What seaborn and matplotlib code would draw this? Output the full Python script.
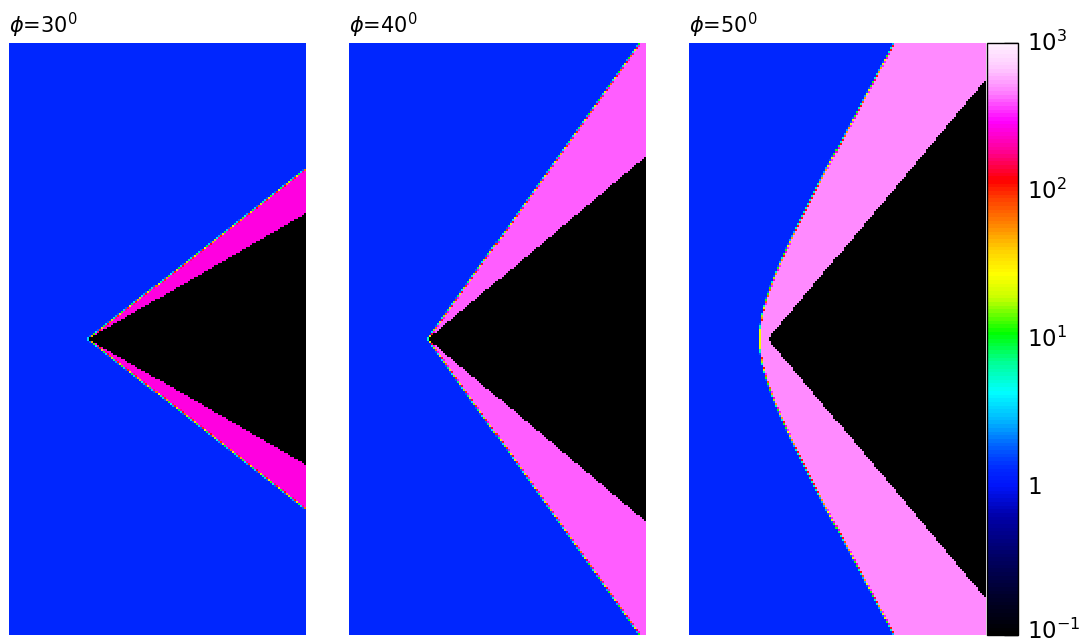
import numpy as np
import matplotlib
matplotlib.use("Agg")
import matplotlib.pyplot as plt
import seaborn as sns
from matplotlib.colors import LinearSegmentedColormap, LogNorm
from matplotlib.ticker import FixedLocator, NullFormatter

# Wedge runs: half-angle (deg), attached shock angle (deg), post-shock density
wedge_angles = [30, 40, 50]
shock_angles = [38.0, 54.4, None]          # None -> detached bow shock
post_shock_density = [254.0, 401.0, 479.0]
ambient_density = 1.3
wedge_density = 0.1
# Detached bow shock of the 50 deg run: nose position, nose radius, far-field slope dx/dy
bow_nose = 71.0
bow_radius = 32.0
bow_slope = 0.55

panel_titles = [r"$\phi$=30$^0$", r"$\phi$=40$^0$", r"$\phi$=50$^0$"]
cbar_ticks = [0.1, 1, 10, 100, 1000]
cbar_ticklabels = [r"$10^{-1}$", r"$1$", r"$10^{1}$", r"$10^{2}$", r"$10^{3}$"]

sns.set_theme(style="white")
plt.rcParams["font.family"] = ["DejaVu Sans"]
plt.rcParams["mathtext.fontset"] = "dejavusans"
plt.rcParams["text.color"] = "black"
plt.rcParams["ytick.color"] = "black"

# density colour table (log scale, 0.1 .. 1000)
anchors = [
    (0.00, (0, 0, 0)), (0.06, (0, 0, 40)), (0.13, (0, 0, 100)), (0.20, (0, 0, 170)),
    (0.25, (0, 20, 250)), (0.28, (0, 40, 255)), (0.32, (0, 100, 255)), (0.36, (0, 180, 255)),
    (0.41, (0, 255, 255)), (0.46, (0, 255, 150)), (0.51, (0, 255, 0)), (0.57, (200, 255, 0)),
    (0.61, (255, 255, 0)), (0.65, (255, 210, 0)), (0.69, (255, 140, 0)), (0.74, (255, 60, 0)),
    (0.77, (255, 0, 0)), (0.82, (255, 0, 150)), (0.87, (255, 0, 255)), (0.92, (255, 130, 255)),
    (0.96, (255, 200, 255)), (1.00, (255, 240, 255)),
]
cmap = LinearSegmentedColormap.from_list(
    "density", [(t, tuple(c / 255 for c in rgb)) for t, rgb in anchors], N=160)
cmap.set_under("black")
norm = LogNorm(vmin=0.1, vmax=1000)

# computational grid (cells), supersampled for cell coverage
nx, ny, sub = 148, 296, 4
Lx, Ly = 297.0, 592.0
apex_x = 79.0
xf = (np.arange(nx * sub) + 0.5) / (nx * sub) * Lx
yf = Ly / 2 - (np.arange(ny * sub) + 0.5) / (ny * sub) * Ly
X, Y = np.meshgrid(xf, yf)


def cell_fraction(mask):
    return mask.reshape(ny, sub, nx, sub).mean(axis=(1, 3))


def density_field(theta, beta, rho_s):
    if beta is not None:
        shocked = (X > apex_x) & (np.abs(Y) < (X - apex_x) * np.tan(np.radians(beta)))
    else:
        xs = bow_nose - bow_radius + np.sqrt(bow_radius ** 2 + (bow_slope * Y) ** 2)
        shocked = X > xs
    f = cell_fraction(shocked)
    rho = ambient_density ** (1 - f) * rho_s ** f
    body = (X > apex_x) & (np.abs(Y) < (X - apex_x) * np.tan(np.radians(theta)))
    rho[cell_fraction(body) > 0.5] = wedge_density
    return rho


fig = plt.figure(figsize=(10.81, 6.43), dpi=100)
W, H = 1081.0, 643.0
lefts = [9, 349, 689]
top, bottom = 43, 635
for i, left in enumerate(lefts):
    ax = fig.add_axes([left / W, 1 - bottom / H, 297 / W, (bottom - top) / H])
    rho = density_field(wedge_angles[i], shock_angles[i], post_shock_density[i])
    sns.heatmap(rho, ax=ax, cmap=cmap, norm=norm, cbar=False,
                xticklabels=False, yticklabels=False, rasterized=True)
    ax.set_title(panel_titles[i], loc="left", fontsize=15, pad=7, color="black")
    if i == 2:
        mappable = ax.collections[0]

cax = fig.add_axes([987 / W, 1 - bottom / H, 31 / W, (bottom - top) / H])
cb = fig.colorbar(mappable, cax=cax)
cb.outline.set_edgecolor("black")
cb.outline.set_linewidth(1.0)
cax.yaxis.set_major_locator(FixedLocator(cbar_ticks))
cax.yaxis.set_major_formatter(NullFormatter())
minor = [m * 10.0 ** e for e in range(-1, 3) for m in range(2, 10)]
cax.yaxis.set_minor_locator(FixedLocator(minor))
cax.yaxis.set_minor_formatter(NullFormatter())
cax.tick_params(axis="y", which="major", direction="in", length=10, width=1,
                color="black", right=True, left=False)
cax.tick_params(axis="y", which="minor", direction="in", length=5.5, width=1,
                color="black", right=True, left=False)

# decade labels beside the colour bar; the lowest one is lifted to stay on the page
for val, lab in zip(cbar_ticks, cbar_ticklabels):
    dy = 4 if val == cbar_ticks[0] else 0
    cax.annotate(lab, xy=(1.0, val), xycoords=("axes fraction", "data"),
                 xytext=(9, dy), textcoords="offset pixels",
                 ha="left", va="center", fontsize=16.5, color="black")

fig.savefig("out.png", dpi=100)
